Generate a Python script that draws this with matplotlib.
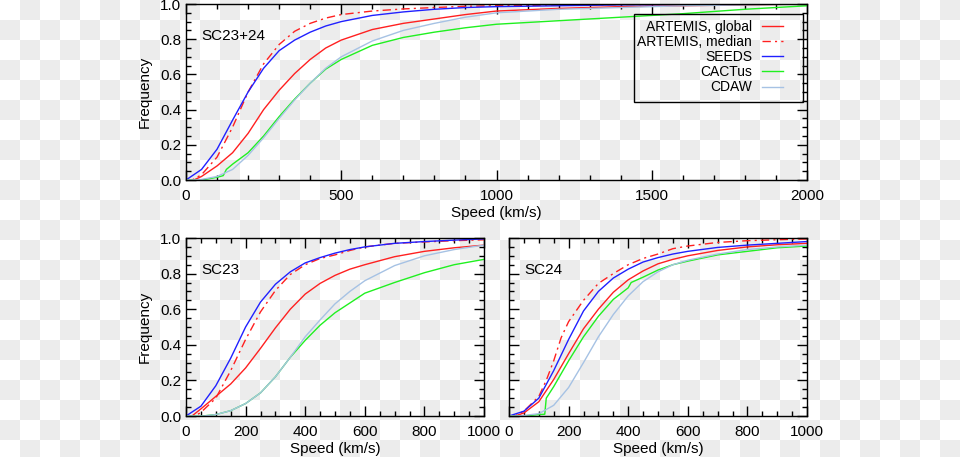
import numpy as np
import matplotlib
matplotlib.use('Agg')
import matplotlib.pyplot as plt
from matplotlib.ticker import MultipleLocator
from matplotlib.patches import Rectangle

plt.rcParams['font.family'] = ['Liberation Sans', 'DejaVu Sans']

# --- data (speed in km/s, cumulative frequency) ---
labels = ['ARTEMIS, global', 'ARTEMIS, median', 'SEEDS', 'CACTus', 'CDAW']
colors = ['#ff2020', '#ff2020', '#2020ff', '#20f020', '#a6c2e4']

# SC23+24
all_global_v = [0, 25, 50, 100, 150, 200, 250, 300, 350, 400, 450, 500, 600, 700, 800, 900, 1000, 1200, 1400, 1600, 1800, 2000]
all_global_f = [0, 0, 0.02, 0.08, 0.155, 0.265, 0.40, 0.51, 0.605, 0.685, 0.75, 0.795, 0.855, 0.89, 0.915, 0.94, 0.96, 0.975, 0.985, 0.99, 0.995, 1.0]
all_median_v = [0, 20, 50, 100, 150, 200, 250, 300, 350, 400, 450, 500, 600, 700, 800, 900, 1000, 1200, 1400, 1600, 1800, 2000]
all_median_f = [0, 0, 0.03, 0.13, 0.30, 0.50, 0.66, 0.77, 0.845, 0.89, 0.92, 0.94, 0.96, 0.972, 0.98, 0.987, 0.99, 0.995, 0.997, 0.998, 0.999, 1.0]
all_seeds_v = [0, 50, 100, 150, 200, 250, 300, 350, 400, 450, 500, 600, 700, 800, 900, 1000, 1200, 1400, 1600, 1800, 2000]
all_seeds_f = [0, 0.06, 0.175, 0.34, 0.50, 0.635, 0.735, 0.795, 0.84, 0.875, 0.90, 0.935, 0.955, 0.97, 0.98, 0.985, 0.99, 0.995, 0.997, 0.998, 1.0]
all_cactus_v = [0, 50, 100, 120, 130, 150, 200, 250, 300, 350, 400, 450, 500, 600, 700, 800, 900, 1000, 1200, 1400, 1600, 1800, 2000]
all_cactus_f = [0, 0, 0.015, 0.025, 0.06, 0.09, 0.155, 0.25, 0.36, 0.46, 0.55, 0.63, 0.685, 0.765, 0.81, 0.84, 0.865, 0.885, 0.905, 0.925, 0.945, 0.97, 0.99]
all_cdaw_v = [0, 30, 50, 100, 150, 200, 250, 300, 350, 400, 450, 500, 600, 700, 800, 900, 1000, 1200, 1400, 1600, 1800, 2000]
all_cdaw_f = [0, 0, 0.003, 0.02, 0.06, 0.14, 0.24, 0.35, 0.455, 0.55, 0.635, 0.70, 0.79, 0.85, 0.89, 0.925, 0.95, 0.97, 0.98, 0.99, 0.995, 1.0]

# SC23
sc23_global_v = [0, 20, 50, 100, 150, 200, 250, 300, 350, 400, 450, 500, 550, 600, 700, 800, 900, 1000]
sc23_global_f = [0, 0, 0.04, 0.11, 0.18, 0.27, 0.38, 0.495, 0.60, 0.685, 0.745, 0.79, 0.825, 0.85, 0.895, 0.925, 0.945, 0.96]
sc23_median_v = [0, 30, 50, 100, 150, 200, 250, 300, 350, 400, 450, 500, 550, 600, 700, 800, 900, 1000]
sc23_median_f = [0, 0, 0.02, 0.10, 0.255, 0.43, 0.585, 0.705, 0.795, 0.85, 0.885, 0.905, 0.93, 0.95, 0.97, 0.978, 0.985, 0.99]
sc23_seeds_v = [0, 50, 100, 150, 200, 250, 300, 350, 400, 450, 500, 550, 600, 700, 800, 900, 1000]
sc23_seeds_f = [0, 0.055, 0.17, 0.325, 0.50, 0.64, 0.74, 0.81, 0.86, 0.89, 0.915, 0.935, 0.95, 0.97, 0.98, 0.988, 0.995]
sc23_cactus_v = [0, 55, 100, 150, 200, 250, 300, 350, 400, 450, 500, 550, 600, 700, 800, 900, 1000]
sc23_cactus_f = [0, 0, 0.008, 0.03, 0.07, 0.13, 0.22, 0.33, 0.425, 0.51, 0.58, 0.635, 0.69, 0.75, 0.805, 0.85, 0.88]
sc23_cdaw_v = [0, 60, 100, 150, 200, 250, 300, 350, 400, 450, 500, 550, 600, 700, 800, 900, 1000]
sc23_cdaw_f = [0, 0, 0.008, 0.03, 0.07, 0.13, 0.22, 0.33, 0.445, 0.54, 0.63, 0.70, 0.76, 0.845, 0.90, 0.935, 0.96]

# SC24
sc24_global_v = [0, 20, 50, 100, 150, 200, 250, 300, 350, 400, 450, 500, 550, 600, 700, 800, 900, 1000]
sc24_global_f = [0, 0, 0.017, 0.08, 0.205, 0.35, 0.49, 0.60, 0.695, 0.765, 0.815, 0.855, 0.88, 0.90, 0.93, 0.95, 0.962, 0.97]
sc24_median_v = [0, 20, 50, 100, 125, 150, 175, 200, 250, 300, 350, 400, 450, 500, 550, 600, 700, 800, 900, 1000]
sc24_median_f = [0, 0, 0.027, 0.11, 0.20, 0.31, 0.44, 0.53, 0.65, 0.745, 0.80, 0.85, 0.885, 0.91, 0.94, 0.955, 0.975, 0.985, 0.99, 0.995]
sc24_seeds_v = [0, 50, 100, 150, 200, 250, 300, 350, 400, 450, 500, 550, 600, 700, 800, 900, 1000]
sc24_seeds_f = [0, 0.027, 0.10, 0.255, 0.43, 0.59, 0.70, 0.775, 0.825, 0.865, 0.89, 0.91, 0.925, 0.947, 0.96, 0.97, 0.98]
sc24_cactus_v = [0, 50, 100, 120, 125, 150, 200, 250, 300, 350, 400, 410, 450, 500, 550, 600, 700, 800, 900, 1000]
sc24_cactus_f = [0, 0, 0.008, 0.01, 0.10, 0.165, 0.31, 0.445, 0.56, 0.655, 0.72, 0.75, 0.78, 0.82, 0.85, 0.87, 0.905, 0.925, 0.945, 0.955]
sc24_cdaw_v = [0, 30, 50, 100, 150, 200, 250, 300, 350, 400, 450, 500, 550, 600, 700, 800, 900, 1000]
sc24_cdaw_f = [0, 0, 0.003, 0.013, 0.06, 0.16, 0.30, 0.445, 0.57, 0.675, 0.755, 0.81, 0.85, 0.875, 0.91, 0.935, 0.95, 0.96]

panels = [
    ('SC23+24', [(all_global_v, all_global_f), (all_median_v, all_median_f), (all_seeds_v, all_seeds_f),
                 (all_cactus_v, all_cactus_f), (all_cdaw_v, all_cdaw_f)]),
    ('SC23', [(sc23_global_v, sc23_global_f), (sc23_median_v, sc23_median_f), (sc23_seeds_v, sc23_seeds_f),
              (sc23_cactus_v, sc23_cactus_f), (sc23_cdaw_v, sc23_cdaw_f)]),
    ('SC24', [(sc24_global_v, sc24_global_f), (sc24_median_v, sc24_median_f), (sc24_seeds_v, sc24_seeds_f),
              (sc24_cactus_v, sc24_cactus_f), (sc24_cdaw_v, sc24_cdaw_f)]),
]

W, H = 960, 457
fig = plt.figure(figsize=(W / 100, H / 100), dpi=100)

# transparency checkerboard behind everything
bg = fig.add_axes([0, 0, 1, 1], zorder=-10)
nr, nc = 23, 48
checker = np.indices((nr, nc)).sum(axis=0) % 2
bg.imshow(checker, cmap=matplotlib.colors.ListedColormap(['white', '#ececec']),
          extent=(0, nc * 20, H - nr * 20, H), interpolation='nearest', aspect='auto')
bg.set_xlim(0, W)
bg.set_ylim(0, H)
bg.axis('off')


def px_axes(x0, y0, x1, y1):
    return fig.add_axes([x0 / W, 1 - y1 / H, (x1 - x0) / W, (y1 - y0) / H])


ax_top = px_axes(186, 4, 807, 180)
ax_l = px_axes(186, 238, 484, 416)
ax_r = px_axes(509, 238, 807, 416)
axes = [ax_top, ax_l, ax_r]

for ax, (name, curves) in zip(axes, panels):
    ax.set_facecolor('none')
    for i, (v, f) in enumerate(curves):
        ls = (0, (6, 3, 1.5, 3)) if i == 1 else '-'
        ax.plot(v, f, color=colors[i], lw=1.0, ls=ls, label=labels[i])
    ax.set_ylim(0, 1.0)
    ax.yaxis.set_major_locator(MultipleLocator(0.2))
    ax.yaxis.set_minor_locator(MultipleLocator(0.05))
    ax.tick_params(which='both', direction='in', top=True, right=True, labelsize=11, color='black')
    ax.tick_params(axis='x', which='both', pad=6.5)
    ax.tick_params(which='major', length=7, width=1)
    ax.tick_params(which='minor', length=3.5, width=1)
    for s in ax.spines.values():
        s.set_linewidth(1.0)
    ax.text(50, 0.82, name, fontsize=11, va='center', ha='left')
    ax.set_xlabel('Speed (km/s)', fontsize=11, labelpad=2)

ax_top.set_xlim(0, 2000)
ax_top.xaxis.set_major_locator(MultipleLocator(500))
ax_top.xaxis.set_minor_locator(MultipleLocator(100))
ax_top.set_yticks([0, 0.2, 0.4, 0.6, 0.8, 1.0], ['0.0', '0.2', '0.4', '0.6', '0.8', '1.0'])
ax_top.set_ylabel('Frequency', fontsize=11, labelpad=6)

for ax in (ax_l, ax_r):
    ax.set_xlim(0, 1000)
    ax.xaxis.set_major_locator(MultipleLocator(200))
    ax.xaxis.set_minor_locator(MultipleLocator(50))
ax_l.set_yticks([0, 0.2, 0.4, 0.6, 0.8, 1.0], ['0.0', '0.2', '0.4', '0.6', '0.8', '1.0'])
ax_l.set_ylabel('Frequency', fontsize=11, labelpad=6)
ax_r.tick_params(labelleft=False)

# legend entries without frame, box drawn separately (IDL-style wide box)
leg = ax_top.legend(loc='upper right', bbox_to_anchor=(783 / W, 1 - 20 / H), bbox_transform=fig.transFigure,
                    fontsize=10, markerfirst=False, frameon=False, handlelength=1.5,
                    labelspacing=0.08, borderaxespad=0.0, handletextpad=0.72, borderpad=0.0)
fig.patches.append(Rectangle((634 / W, 1 - 102 / H), (803 - 634) / W, (102 - 14) / H,
                             transform=fig.transFigure, fill=False, edgecolor='black', lw=1.0))

fig.savefig('out.png', dpi=100)
